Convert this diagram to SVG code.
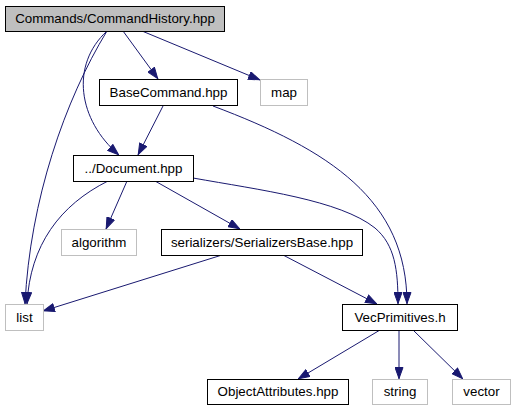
<svg xmlns="http://www.w3.org/2000/svg" width="516" height="411" viewBox="0 0 516 411">
<style>
.n rect{fill:#ffffff;stroke:#000000;stroke-width:1}
.n.g rect{stroke:#bfbfbf}
.n.root rect{fill:#bfbfbf}
.n text{font-family:"Liberation Sans",Arial,sans-serif;font-size:13.33px;fill:#000000;text-anchor:middle}
#edges path{fill:none;stroke:#191970;stroke-width:1;marker-end:url(#arr)}
</style>
<defs>
<marker id="arr" viewBox="0 0 12 9" refX="12" refY="4.5" markerWidth="12" markerHeight="9" markerUnits="userSpaceOnUse" orient="auto">
<path d="M0.5,0.5 L11.5,4.5 L0.5,8.5 z" fill="#191970" stroke="#191970"/>
</marker>
</defs>
<rect width="516" height="411" fill="#ffffff"/>
<g id="edges">
<path d="M123,31 L158,79"/>
<path d="M142,31 L260,80"/>
<path d="M107,31 C70,65 78,120 119,155"/>
<path d="M107,31 C65,100 30,200 25,304"/>
<path d="M163,106 L138,155"/>
<path d="M213,106 C330,150 407,200 407,304"/>
<path d="M108,181 C60,205 30,245 27,304"/>
<path d="M127,181 L106,229"/>
<path d="M155,181 L240,229"/>
<path d="M193,178 C260,190 340,200 375,228 C395,245 398,270 398,304"/>
<path d="M222,255 L43,311"/>
<path d="M283,255 L377,304"/>
<path d="M380,330 L298,379"/>
<path d="M399,330 L399,379"/>
<path d="M413,330 L463,379"/>
</g>
<g id="node_commandhistory" class="n root"><rect x="5.5" y="6.5" width="219" height="25"/><text x="115" y="23">Commands/CommandHistory.hpp</text></g>
<g id="node_basecommand" class="n"><rect x="99.5" y="79.5" width="138" height="26"/><text x="168.5" y="97">BaseCommand.hpp</text></g>
<g id="node_map" class="n g"><rect x="260.5" y="79.5" width="47" height="26"/><text x="284" y="97">map</text></g>
<g id="node_document" class="n"><rect x="73.5" y="155.5" width="120" height="26"/><text x="133.5" y="173">../Document.hpp</text></g>
<g id="node_algorithm" class="n g"><rect x="61.5" y="229.5" width="75" height="26"/><text x="99" y="247">algorithm</text></g>
<g id="node_serializersbase" class="n"><rect x="161.5" y="229.5" width="201" height="26"/><text x="262" y="247">serializers/SerializersBase.hpp</text></g>
<g id="node_list" class="n g"><rect x="5.5" y="304.5" width="38" height="26"/><text x="24.5" y="322">list</text></g>
<g id="node_vecprimitives" class="n"><rect x="342.5" y="304.5" width="115" height="26"/><text x="400" y="322">VecPrimitives.h</text></g>
<g id="node_objectattributes" class="n"><rect x="207.5" y="379.5" width="141" height="25"/><text x="278" y="396">ObjectAttributes.hpp</text></g>
<g id="node_string" class="n g"><rect x="372.5" y="379.5" width="55" height="25"/><text x="400" y="396">string</text></g>
<g id="node_vector" class="n g"><rect x="452.5" y="379.5" width="58" height="25"/><text x="481.5" y="396">vector</text></g>
</svg>
